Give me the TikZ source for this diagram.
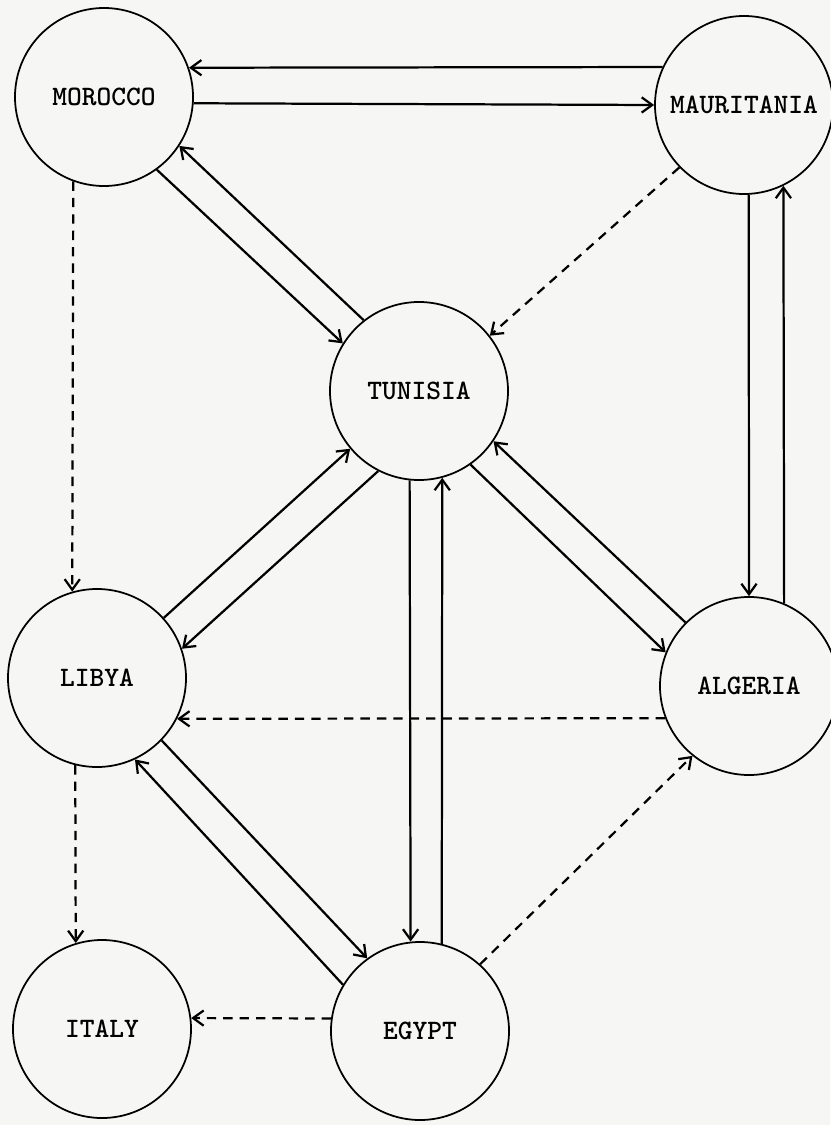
\documentclass[tikz,border=0pt]{standalone}
\usepackage{tikz}
\usepackage{xcolor}
\usetikzlibrary{arrows.meta}
\definecolor{paper}{RGB}{246,246,244}

\begin{document}
\begin{tikzpicture}[x=0.03cm,y=-0.03cm,
  country/.style={draw,circle,line width=1.5pt,minimum size=5.34cm,inner sep=0pt,
    font=\ttfamily\bfseries\fontsize{24}{28}\selectfont},
  flow/.style={line width=1.9pt,-{Straight Barb[length=9pt,width=13pt]}},
  weak/.style={flow,dash pattern=on 8pt off 6pt}]
\fill[paper] (0,0) rectangle (830,1125);
\useasboundingbox (0,0) rectangle (830,1125);
\node[country] (mor) at (104,97) {MOROCCO};
\node[country] (mau) at (744,105) {MAURITANIA};
\node[country] (tun) at (419,391) {TUNISIA};
\node[country] (lib) at (97,678) {LIBYA};
\node[country] (alg) at (749,686) {ALGERIA};
\node[country] (ita) at (102,1029) {ITALY};
\node[country] (egy) at (420,1031) {EGYPT};
\draw[flow] (mau.155) -- (mor.19);
\draw[flow] (mor.356) -- (mau.180);
\draw[flow] (mor.306) -- (tun.148);
\draw[flow] (tun.128) -- (mor.327);
\draw[weak] (mau.224) -- (tun.38);
\draw[weak] (mor.250) -- (lib.106);
\draw[flow] (lib.42) -- (tun.220);
\draw[flow] (tun.243) -- (lib.19);
\draw[flow] (tun.264) -- (egy.96);
\draw[flow] (egy.76) -- (tun.285);
\draw[flow] (tun.305) -- (alg.158);
\draw[flow] (alg.135) -- (tun.326);
\draw[flow] (mau.273) -- (alg.90);
\draw[flow] (alg.67) -- (mau.296);
\draw[weak] (alg.201) -- (lib.333);
\draw[flow] (lib.316) -- (egy.126);
\draw[flow] (egy.149) -- (lib.295);
\draw[weak] (lib.256) -- (ita.107);
\draw[weak] (egy.172) -- (ita.7);
\draw[weak] (egy.48) -- (alg.231);
\end{tikzpicture}
\end{document}
